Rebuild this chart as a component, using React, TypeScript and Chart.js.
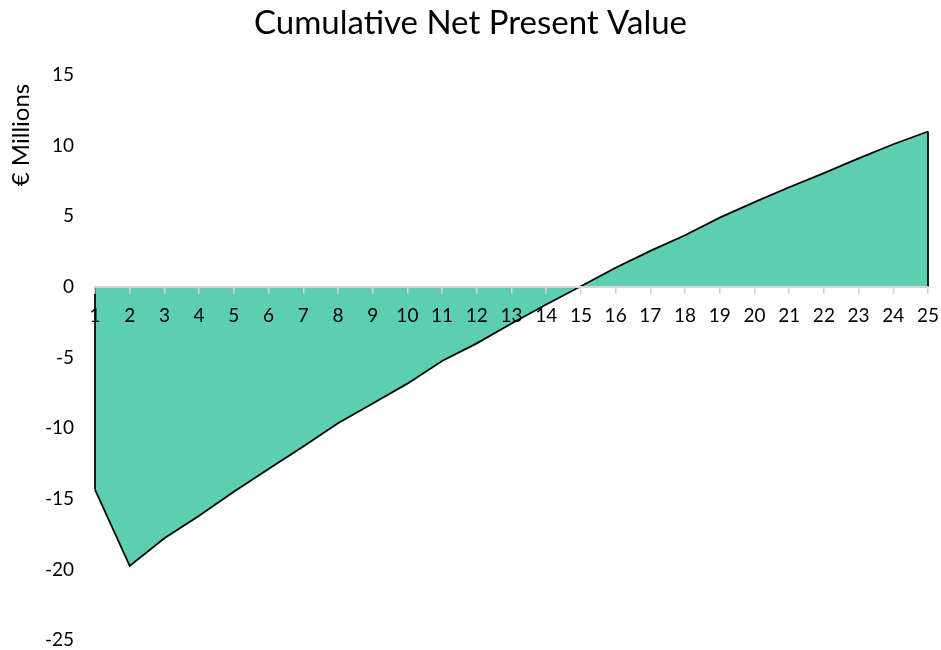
import React, { useEffect, useRef } from 'react';
import { Chart, registerables } from 'chart.js';

Chart.register(...registerables);

const years = ['1', '2', '3', '4', '5', '6', '7', '8', '9', '10', '11', '12', '13', '14', '15', '16', '17', '18', '19', '20', '21', '22', '23', '24', '25'];
const cumulativeNPV = [-14.35, -19.75, -17.8, -16.2, -14.5, -12.9, -11.3, -9.65, -8.25, -6.85, -5.25, -4.0, -2.6, -1.25, 0.05, 1.35, 2.55, 3.65, 4.9, 6.0, 7.05, 8.05, 9.1, 10.1, 11.0];
const yMin = -25;
const yMax = 15;
const yStep = 5;

const FONT = 'Lato, "Open Sans", sans-serif';

const edgePlugin = {
  id: 'areaEdges',
  afterDatasetsDraw(chart: any) {
    const meta = chart.getDatasetMeta(0);
    const yScale = chart.scales.y;
    const zero = yScale.getPixelForValue(0);
    const pts = meta.data;
    if (!pts.length) return;
    const ctx = chart.ctx;
    ctx.save();
    ctx.strokeStyle = '#000000';
    ctx.lineWidth = 1.75;
    [pts[0], pts[pts.length - 1]].forEach((p: any) => {
      ctx.beginPath();
      ctx.moveTo(p.x, p.y);
      ctx.lineTo(p.x, zero);
      ctx.stroke();
    });
    ctx.restore();
  },
};

const axisTitlePlugin = {
  id: 'axisTitle',
  afterDraw(chart: any) {
    const ctx = chart.ctx;
    ctx.save();
    ctx.translate(21, 135);
    ctx.rotate(-Math.PI / 2);
    ctx.font = `24px ${FONT}`;
    ctx.fillStyle = '#000000';
    ctx.textAlign = 'center';
    ctx.textBaseline = 'middle';
    ctx.fillText('€ Millions', 0, 0);
    ctx.restore();
  },
};

export default function App() {
  const ref = useRef<HTMLCanvasElement | null>(null);

  useEffect(() => {
    document.body.style.margin = '0';
    const canvas = ref.current;
    if (!canvas) return;
    const chart = new Chart(canvas, {
      type: 'line',
      data: {
        labels: years,
        datasets: [
          {
            label: 'Cumulative NPV',
            data: cumulativeNPV,
            borderColor: '#000000',
            borderWidth: 1.75,
            backgroundColor: '#5ccfb0',
            fill: 'origin',
            pointRadius: 0,
            tension: 0,
          },
        ],
      },
      options: {
        responsive: false,
        animation: false,
        layout: { padding: { left: 0, right: 0, top: 0, bottom: 0 } },
        plugins: {
          legend: { display: false },
          tooltip: { enabled: false },
          title: {
            display: true,
            text: 'Cumulative Net Present Value',
            color: '#000000',
            font: { family: FONT, size: 33, weight: 'normal' },
            padding: { top: 4, bottom: 31.4 },
          },
        },
        scales: {
          x: {
            type: 'category',
            position: { y: 0 } as any,
            offset: false,
            grid: {
              display: true,
              drawOnChartArea: false,
              drawTicks: true,
              tickLength: 6,
              color: '#d4d4d4',
              lineWidth: 1.5,
              z: 1,
            },
            border: { display: true, color: '#d4d4d4', width: 2, z: 1 },
            ticks: {
              color: '#000000',
              font: { family: FONT, size: 19 },
              autoSkip: false,
              maxRotation: 0,
              padding: 12,
              z: 2,
            },
            afterFit(scale: any) {
              scale.paddingLeft = 0;
              scale.paddingRight = 13;
              scale.paddingTop = 0;
              scale.paddingBottom = 0;
            },
          },
          y: {
            min: yMin,
            max: yMax,
            grid: { display: false },
            border: { display: false },
            ticks: {
              stepSize: yStep,
              color: '#000000',
              font: { family: FONT, size: 19 },
              padding: 13,
            },
            afterFit(scale: any) {
              scale.width = 95;
              scale.paddingTop = 0;
              scale.paddingBottom = 10;
            },
          },
        },
      },
      plugins: [edgePlugin, axisTitlePlugin],
    });
    return () => chart.destroy();
  }, []);

  return (
    <div style={{ width: 941, height: 650 }}>
      <canvas ref={ref} width={941} height={650} />
    </div>
  );
}
